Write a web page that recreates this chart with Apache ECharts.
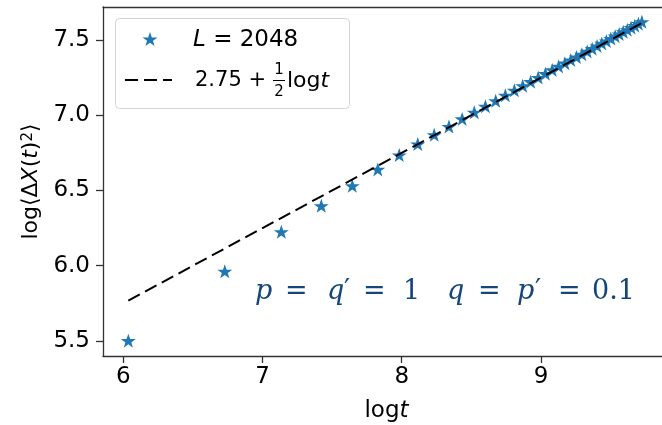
<!DOCTYPE html>
<html>
<head>
<meta charset="utf-8">
<script src="https://cdn.jsdelivr.net/npm/echarts@6/dist/echarts.min.js"></script>
<style>html,body{margin:0;padding:0;background:#fff;}#c{width:662px;height:425px;}</style>
</head>
<body>
<div id="c"></div>
<script>
// Data
const logT = [6.036, 6.729, 7.135, 7.422, 7.645, 7.828, 7.982, 8.115, 8.233, 8.339,
  8.434, 8.521, 8.601, 8.675, 8.744, 8.809, 8.869, 8.926, 8.980, 9.032,
  9.081, 9.127, 9.172, 9.214, 9.255, 9.294, 9.332, 9.368, 9.403, 9.437,
  9.470, 9.502, 9.533, 9.562, 9.591, 9.620, 9.647, 9.674, 9.700, 9.725];
const logDX2 = [5.502, 5.963, 6.225, 6.398, 6.531, 6.640, 6.735, 6.808, 6.870, 6.925,
  6.975, 7.019, 7.059, 7.096, 7.132, 7.165, 7.195, 7.223, 7.250, 7.276,
  7.301, 7.324, 7.346, 7.367, 7.386, 7.405, 7.424, 7.442, 7.460, 7.477,
  7.493, 7.509, 7.525, 7.539, 7.554, 7.568, 7.582, 7.595, 7.608, 7.621];
const fitX = [6.036, 9.725];
const fitY = [5.768, 7.6125];
const xTicks = [6, 7, 8, 9];
const yTicks = [5.5, 6.0, 6.5, 7.0, 7.5];
const legendLabel1 = 'L = 2048';

const STAR = 'M50,0 L61.8,35.1 L98.1,35.1 L68.8,56.7 L79.4,90.9 L50,69.1 L20.6,90.9 L31.2,56.7 L1.9,35.1 L38.2,35.1 Z';
const STAR_PTS = [[50,0],[61.8,35.1],[98.1,35.1],[68.8,56.7],[79.4,90.9],[50,69.1],[20.6,90.9],[31.2,56.7],[1.9,35.1],[38.2,35.1]];
const FONT = 'DejaVu Sans';
const BLUE = '#1f77b4';
const AXC = '#333333';
const NAVY = '#15467a';

function starAt(cx, cy, w, h) {
  return STAR_PTS.map(p => [cx + (p[0] - 50) / 96.2 * w, cy + (p[1] - 45.45) / 90.9 * h]);
}

const SERIF = 'DejaVu Serif';
const AS = 27;
const annRich = {
  pi: {fontFamily: SERIF, fontSize: AS, fontStyle: 'italic', fill: NAVY, width: 30},
  e1: {fontFamily: SERIF, fontSize: AS, fill: NAVY, width: 42},
  qi1: {fontFamily: SERIF, fontSize: AS, fontStyle: 'italic', fill: NAVY, width: 17},
  pr1: {fontFamily: SERIF, fontSize: AS, fill: NAVY, width: 19},
  e2: {fontFamily: SERIF, fontSize: AS, fill: NAVY, width: 40},
  one: {fontFamily: SERIF, fontSize: AS, fill: NAVY, width: 44},
  qi: {fontFamily: SERIF, fontSize: AS, fontStyle: 'italic', fill: NAVY, width: 31},
  e3: {fontFamily: SERIF, fontSize: AS, fill: NAVY, width: 39},
  pi2: {fontFamily: SERIF, fontSize: AS, fontStyle: 'italic', fill: NAVY, width: 18},
  pr2: {fontFamily: SERIF, fontSize: AS, fill: NAVY, width: 23},
  e4: {fontFamily: SERIF, fontSize: AS, fill: NAVY, width: 34},
  num: {fontFamily: SERIF, fontSize: AS, fill: NAVY}
};

const chart = echarts.init(document.getElementById('c'), null, {renderer: 'canvas'});
const option = {
  animation: false,
  backgroundColor: '#ffffff',
  grid: {left: 103, width: 567, top: 7, height: 349, show: false, outerBoundsMode: 'none', containLabel: false},
  xAxis: [{
    type: 'value', min: 5.854, max: 9.927,
    name: '{n|log}{i|t}', nameLocation: 'middle', nameGap: 44,
    nameTextStyle: {rich: {n: {fontFamily: FONT, fontSize: 23, color: '#000'}, i: {fontFamily: FONT, fontSize: 23, fontStyle: 'italic', color: '#000'}}},
    axisLine: {show: true, onZero: false, lineStyle: {color: AXC, width: 1.3}},
    axisTick: {show: true, customValues: xTicks, length: 7, lineStyle: {color: AXC, width: 1.3}},
    axisLabel: {customValues: xTicks, formatter: v => String(v), fontFamily: FONT, fontSize: 23, color: '#000', margin: 10},
    splitLine: {show: false}
  }, {
    type: 'value', min: 5.854, max: 9.927, position: 'top',
    axisLine: {show: true, onZero: false, lineStyle: {color: AXC, width: 1.3}},
    axisTick: {show: false}, axisLabel: {show: false}, splitLine: {show: false}
  }],
  yAxis: {
    type: 'value', min: 5.400, max: 7.719,
    name: '{n|log⟨Δ}{i|X}{n|(}{i|t}{n|)}{s|2}{n|⟩}', nameLocation: 'middle', nameGap: 60, nameRotate: 90,
    nameTextStyle: {rich: {
      n: {fontFamily: FONT, fontSize: 22, color: '#000'},
      i: {fontFamily: FONT, fontSize: 22, fontStyle: 'italic', color: '#000'},
      s: {fontFamily: FONT, fontSize: 15, color: '#000', verticalAlign: 'top'}}},
    axisLine: {show: true, onZero: false, lineStyle: {color: AXC, width: 1.3}},
    axisTick: {show: true, customValues: yTicks, length: 7, lineStyle: {color: AXC, width: 1.3}},
    axisLabel: {customValues: yTicks, formatter: v => v.toFixed(1), fontFamily: FONT, fontSize: 23, color: '#000', margin: 13},
    splitLine: {show: false}
  },
  series: [
    {
      type: 'scatter', name: legendLabel1,
      data: logT.map((x, i) => [x, logDX2[i]]),
      symbol: 'path://' + STAR, symbolSize: [15, 14],
      itemStyle: {color: BLUE, opacity: 1}, z: 2
    },
    {
      type: 'line', name: 'fit',
      data: fitX.map((x, i) => [x, fitY[i]]),
      showSymbol: false, symbol: 'none',
      lineStyle: {color: '#000', width: 2, type: [13, 6]}, z: 3
    }
  ],
  graphic: [
    {type: 'rect', shape: {x: 115.5, y: 18.5, width: 234, height: 90, r: 4},
     style: {fill: 'rgba(255,255,255,0.8)', stroke: '#d5d5d5', lineWidth: 1}, z: 10},
    {type: 'polygon', shape: {points: starAt(150, 39, 15, 14)},
     style: {fill: BLUE}, z: 11},
    {type: 'text', x: 193, y: 40, z: 11,
     style: {text: '{i|L}{n| = 2048}', verticalAlign: 'middle', rich: {
       n: {fontFamily: FONT, fontSize: 23, fill: '#000'},
       i: {fontFamily: FONT, fontSize: 23, fontStyle: 'italic', fill: '#000'}}}},
    {type: 'line', shape: {x1: 125, y1: 80, x2: 172, y2: 80}, z: 11,
     style: {stroke: '#000', lineWidth: 2, lineDash: [13, 6]}},
    {type: 'text', x: 195, y: 81, z: 11,
     style: {text: '2.75 +', verticalAlign: 'middle', fontFamily: FONT, fontSize: 21, fill: '#000'}},
    {type: 'text', x: 279, y: 70, z: 11,
     style: {text: '1', align: 'center', verticalAlign: 'middle', fontFamily: FONT, fontSize: 15, fill: '#000'}},
    {type: 'line', shape: {x1: 273, y1: 80.5, x2: 285, y2: 80.5}, z: 11,
     style: {stroke: '#000', lineWidth: 1}},
    {type: 'text', x: 279, y: 92, z: 11,
     style: {text: '2', align: 'center', verticalAlign: 'middle', fontFamily: FONT, fontSize: 15, fill: '#000'}},
    {type: 'text', x: 287, y: 81, z: 11,
     style: {text: '{n|log}{i|t}', verticalAlign: 'middle', rich: {
       n: {fontFamily: FONT, fontSize: 22, fill: '#000'},
       i: {fontFamily: FONT, fontSize: 22, fontStyle: 'italic', fill: '#000'}}}},
    {type: 'text', x: 255, y: 292, z: 11,
     style: {text: '{pi|p}{e1|=}{qi1|q}{pr1|′}{e2|=}{one|1}{qi|q}{e3|=}{pi2|p}{pr2|′}{e4|=}{num|0.1}', verticalAlign: 'middle', rich: annRich}}
  ]
};
chart.setOption(option);
</script>
</body>
</html>
